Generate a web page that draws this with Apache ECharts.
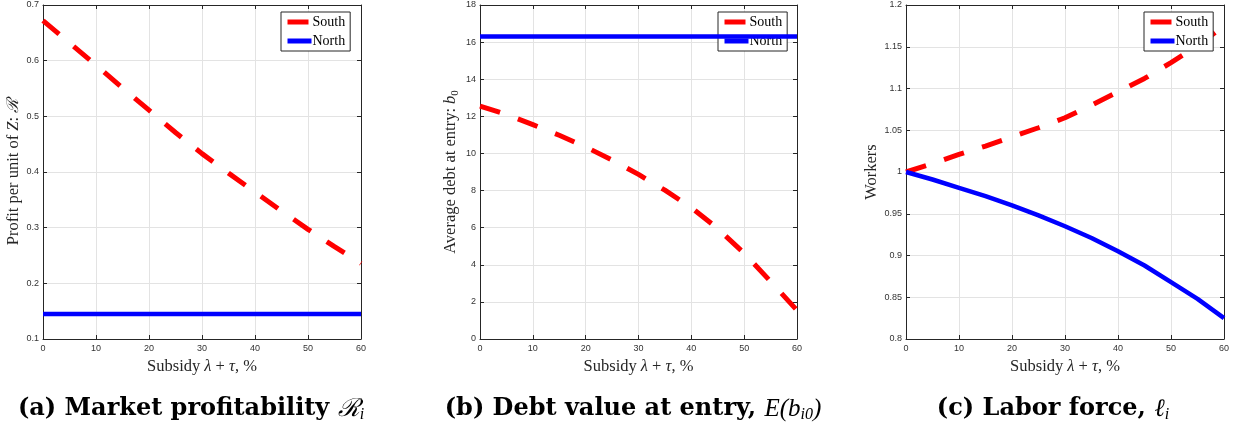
<!DOCTYPE html>
<html>
<head>
<meta charset="utf-8">
<script src="https://cdn.jsdelivr.net/npm/echarts@6/dist/echarts.min.js"></script>
<style>
  html, body { margin: 0; padding: 0; background: #fff; }
  #chart { width: 1239px; height: 428px; }
</style>
</head>
<body>
<div id="chart"></div>
<script>
// Subsidy level (lambda + tau), in percent
const subsidy = [0, 5, 10, 15, 20, 25, 30, 35, 40, 45, 50, 55, 60];

// (a) Market profitability: profit per unit of Z
const profitSouth = [0.672, 0.632, 0.592, 0.551, 0.511, 0.471, 0.433, 0.398, 0.364, 0.330, 0.297, 0.266, 0.236];
const profitNorth = [0.145, 0.145, 0.145, 0.145, 0.145, 0.145, 0.145, 0.145, 0.145, 0.145, 0.145, 0.145, 0.145];

// (b) Average debt value at entry
const debtSouth = [12.55, 12.10, 11.55, 10.98, 10.35, 9.65, 8.87, 8.02, 7.08, 5.95, 4.62, 3.10, 1.55];
const debtNorth = [16.3, 16.3, 16.3, 16.3, 16.3, 16.3, 16.3, 16.3, 16.3, 16.3, 16.3, 16.3, 16.3];

// (c) Labor force (workers)
const laborSouth = [1.000, 1.010, 1.021, 1.031, 1.042, 1.053, 1.065, 1.080, 1.096, 1.112, 1.131, 1.151, 1.175];
const laborNorth = [1.000, 0.991, 0.981, 0.971, 0.960, 0.948, 0.935, 0.921, 0.905, 0.888, 0.868, 0.848, 0.825];

const seriesNames = ['South', 'North'];

const SERIF = '"Liberation Serif", "DejaVu Serif", serif';
const SANS = '"Liberation Sans", Arial, sans-serif';
const AXIS_COLOR = '#262626';
const NAME_SIZE = 16.5;

const panels = [
  { left: 43,  width: 318, yMin: 0.1, yMax: 0.7, yStep: 0.1, nameGap: 21,
    yName: 'Profit per unit of {m|Z}: {m|ℛ}', south: profitSouth, north: profitNorth, legendLeft: 281 },
  { left: 480, width: 317, yMin: 0,   yMax: 18,  yStep: 2,   nameGap: 19,
    yName: 'Average debt at entry: {m|b}{s|0}', south: debtSouth, north: debtNorth, legendLeft: 718 },
  { left: 906, width: 318, yMin: 0.8, yMax: 1.2, yStep: 0.05, nameGap: 26,
    yName: 'Workers', south: laborSouth, north: laborNorth, legendLeft: 1144 }
];

const nameRich = {
  m: { fontFamily: SERIF, fontStyle: 'italic', fontSize: NAME_SIZE, color: AXIS_COLOR },
  s: { fontFamily: SERIF, fontSize: 11, color: AXIS_COLOR, verticalAlign: 'bottom', lineHeight: 20 }
};

const grids = [], xAxes = [], yAxes = [], series = [], legends = [];

panels.forEach((p, i) => {
  grids.push({ left: p.left, width: p.width, top: 5, bottom: 89, containLabel: false });

  const tick = { show: true, inside: true, length: 4, lineStyle: { color: AXIS_COLOR, width: 1 } };
  const line = { show: true, onZero: false, lineStyle: { color: AXIS_COLOR, width: 1 } };

  xAxes.push({
    type: 'value', gridIndex: i, position: 'bottom', min: 0, max: 60, interval: 10,
    axisLine: line, axisTick: tick,
    axisLabel: { fontFamily: SANS, fontSize: 9, color: '#333', margin: 5 },
    splitLine: { show: true, lineStyle: { color: '#e3e3e3', width: 1 } },
    name: 'Subsidy {m|λ} + {m|τ}, %', nameLocation: 'middle', nameGap: 16,
    nameTextStyle: { fontFamily: SERIF, fontSize: NAME_SIZE, color: AXIS_COLOR, rich: nameRich }
  });
  xAxes.push({
    type: 'value', gridIndex: i, position: 'top', min: 0, max: 60, interval: 10,
    axisLine: line, axisTick: tick, axisLabel: { show: false }, splitLine: { show: false }
  });

  yAxes.push({
    type: 'value', gridIndex: i, position: 'left', min: p.yMin, max: p.yMax, interval: p.yStep,
    axisLine: line, axisTick: tick,
    axisLabel: { fontFamily: SANS, fontSize: 9, color: '#333', margin: 4 },
    splitLine: { show: true, lineStyle: { color: '#e3e3e3', width: 1 } },
    name: p.yName, nameLocation: 'middle', nameGap: p.nameGap, nameRotate: 90,
    nameTextStyle: { fontFamily: SERIF, fontSize: NAME_SIZE, color: AXIS_COLOR, rich: nameRich }
  });
  yAxes.push({
    type: 'value', gridIndex: i, position: 'right', min: p.yMin, max: p.yMax, interval: p.yStep,
    axisLine: line, axisTick: tick, axisLabel: { show: false }, splitLine: { show: false }
  });

  series.push({
    name: seriesNames[0], type: 'line', xAxisIndex: 2 * i, yAxisIndex: 2 * i,
    data: subsidy.map((x, k) => [x, p.south[k]]),
    symbol: 'none', smooth: false, z: 3,
    lineStyle: { color: '#ff0000', width: 5, type: [21, 19], cap: 'butt' },
    itemStyle: { color: '#ff0000' }
  });
  series.push({
    name: seriesNames[1], type: 'line', xAxisIndex: 2 * i, yAxisIndex: 2 * i,
    data: subsidy.map((x, k) => [x, p.north[k]]),
    symbol: 'none', smooth: false, z: 4,
    lineStyle: { color: '#0000ff', width: 4.5, type: 'solid' },
    itemStyle: { color: '#0000ff' }
  });

  legends.push({
    data: seriesNames, orient: 'vertical', left: p.legendLeft, top: 12,
    itemWidth: 24, itemHeight: 12, itemGap: 5, padding: [3, 5, 3, 4],
    backgroundColor: '#fff', borderColor: AXIS_COLOR, borderWidth: 1, borderRadius: 0,
    selectedMode: false,
    lineStyle: { width: 5 },
    itemStyle: { opacity: 0 },
    textStyle: { fontFamily: SERIF, fontSize: 14, color: '#000', padding: [0, 0, 0, -4] }
  });
});

const capRich = {
  m: { fontFamily: SERIF, fontStyle: 'italic', fontWeight: 'normal', fontSize: 25, color: '#000', lineHeight: 28 },
  s: { fontFamily: SERIF, fontStyle: 'italic', fontWeight: 'normal', fontSize: 16, color: '#000', verticalAlign: 'bottom', lineHeight: 27 }
};

function caption(x, text) {
  return {
    type: 'text', x: x, y: 409,
    style: {
      text: text, rich: capRich, fill: '#000',
      fontFamily: '"DejaVu Serif", serif', fontWeight: 'bold', fontSize: 24,
      align: 'center', verticalAlign: 'middle'
    }
  };
}

const chart = echarts.init(document.getElementById('chart'), null, { renderer: 'canvas' });
chart.setOption({
  animation: false,
  backgroundColor: '#fff',
  grid: grids,
  xAxis: xAxes,
  yAxis: yAxes,
  legend: legends,
  series: series,
  graphic: [
    caption(191, '(a) Market profitability {m|ℛ}{s|i}'),
    caption(633, '(b) Debt value at entry, {m|E}{m|(b}{s|i0}{m|)}'),
    caption(1053, '(c) Labor force, {m|ℓ}{s|i}')
  ]
});
</script>
</body>
</html>
